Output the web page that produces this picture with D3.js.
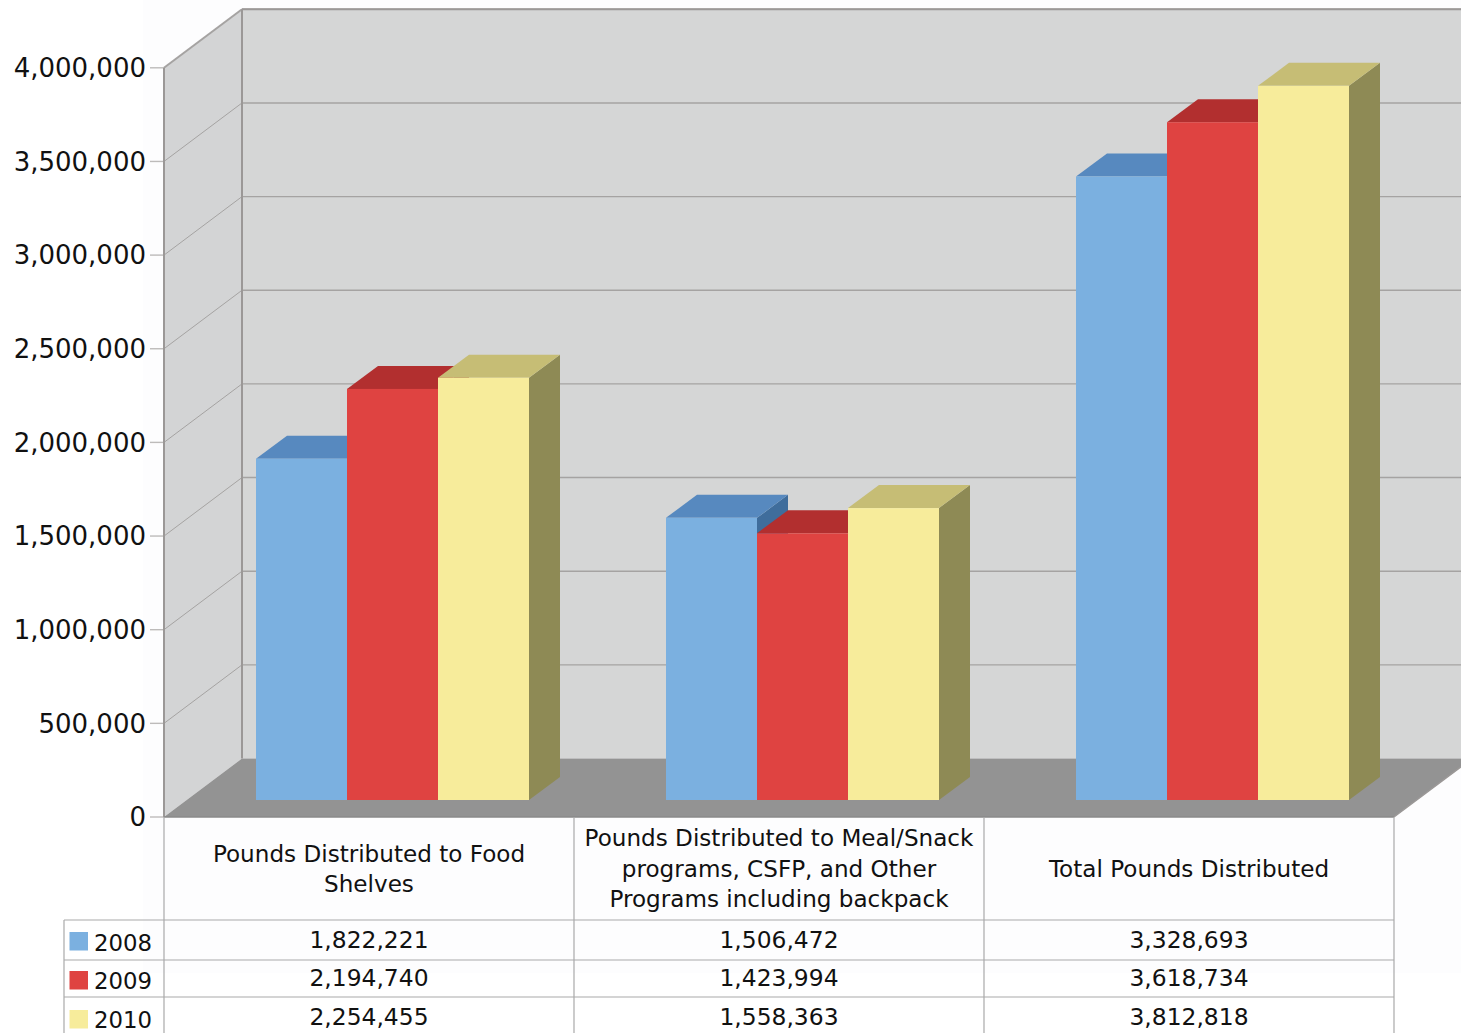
<!DOCTYPE html>
<html>
<head>
<meta charset="utf-8">
<script src="https://cdn.jsdelivr.net/npm/d3@7"></script>
<style>
html, body { margin: 0; padding: 0; background: #fff; overflow: hidden; }
text { font-family: "DejaVu Sans", Verdana, sans-serif; fill: #111; }
</style>
</head>
<body>
<div id="my_dataviz"></div>
<script>
const categories = [
	["Pounds Distributed to Food", "Shelves"],
	["Pounds Distributed to Meal/Snack", "programs, CSFP, and Other", "Programs including backpack"],
	["Total Pounds Distributed"]
];
const years = ["2008", "2009", "2010"];
const VALUES_2008 = [1822221, 1506472, 3328693];
const VALUES_2009 = [2194740, 1423994, 3618734];
const VALUES_2010 = [2254455, 1558363, 3812818];
const yTicks = [0, 500000, 1000000, 1500000, 2000000, 2500000, 3000000, 3500000, 4000000];
const allValues = [VALUES_2008, VALUES_2009, VALUES_2010];

// front, top, side of each year's bars
const frontColors = ["#7bb0e0", "#df4341", "#f7ec9b"];
const topColors = ["#5789bf", "#b22f2f", "#c6bd75"];
const sideColors = ["#3f6d9c", "#8e2a2a", "#8e8a55"];

const width = 1461, height = 1033;
const left = 164, right = 1394, base = 817, top4m = 67.8;
const depthX = 78, depthY = 58.5;   // wall depth
const barDepthX = 31, barDepthY = 23;   // bar depth
const barLift = 17;   // bars stand a bit inside the floor

const svg = d3.select("#my_dataviz").append("svg")
	.attr("width", width).attr("height", height)
	.style("display", "block");

const y = d3.scaleLinear().domain([0, 4000000]).range([base, top4m]);
const x = d3.scaleBand().domain(d3.range(categories.length)).range([left, right]);
const xInner = d3.scaleBand().domain(years).range([92, 365]);

const poly = pts => "M" + pts.map(p => p.join(",")).join("L") + "Z";
const fmt = d3.format(",");

// faint off-white plate behind the chart
svg.append("rect").attr("x", 143).attr("y", 0).attr("width", width - 143).attr("height", 973).attr("fill", "#fdfdfe");

// walls and floor
svg.append("path")
	.attr("d", poly([[left, y(4000000)], [left + depthX, y(4000000) - depthY], [left + depthX, base - depthY], [left, base]]))
	.attr("fill", "#d3d4d5");
svg.append("rect")
	.attr("x", left + depthX).attr("y", y(4000000) - depthY)
	.attr("width", width - left - depthX).attr("height", base - y(4000000))
	.attr("fill", "#d5d6d6");
svg.append("path")
	.attr("d", poly([[left, base], [right, base], [right + depthX, base - depthY], [left + depthX, base - depthY]]))
	.attr("fill", "#939393");

// grid
const grid = svg.append("g").attr("fill", "none").attr("stroke", "#a5a3a2").attr("stroke-width", 1.4);
yTicks.forEach(function (t) {
	if (t > 0) {
		grid.append("line").attr("x1", left + depthX).attr("x2", width)
			.attr("y1", y(t) - depthY).attr("y2", y(t) - depthY);
		grid.append("line").attr("x1", left).attr("x2", left + depthX)
			.attr("y1", y(t)).attr("y2", y(t) - depthY)
			.attr("stroke-width", t === 4000000 ? 2 : 1);
	}
	grid.append("line").attr("x1", 150).attr("x2", left).attr("y1", y(t)).attr("y2", y(t))
		.attr("stroke", "#bdbbba");
});
grid.append("line").attr("x1", left).attr("x2", left).attr("y1", y(4000000)).attr("y2", base).attr("stroke", "#9b9897").attr("stroke-width", 2);
grid.append("line").attr("x1", left + depthX).attr("x2", left + depthX).attr("y1", y(4000000) - depthY).attr("y2", base - depthY).attr("stroke", "#9b9897").attr("stroke-width", 2);
grid.append("line").attr("x1", left + depthX).attr("x2", width).attr("y1", y(4000000) - depthY).attr("y2", y(4000000) - depthY).attr("stroke", "#9b9897").attr("stroke-width", 2);
grid.append("line").attr("x1", left).attr("x2", right).attr("y1", base).attr("y2", base).attr("stroke", "#8a8a8a").attr("stroke-width", 1.5);
grid.append("line").attr("x1", right).attr("x2", right + depthX).attr("y1", base).attr("y2", base - depthY).attr("stroke", "#9b9897");

// y labels
svg.selectAll(".ylabel").data(yTicks).enter().append("text")
	.attr("class", "ylabel")
	.attr("x", 146).attr("y", d => y(d)).attr("dy", "0.36em")
	.attr("text-anchor", "end").attr("font-size", 26)
	.text(fmt);

// bars
categories.forEach(function (c, ci) {
	years.forEach(function (yr, si) {
		const x0 = x(ci) + xInner(yr), x1 = x0 + xInner.bandwidth();
		const yb = base - barLift, yt = y(allValues[si][ci]) - barLift;
		svg.append("path").attr("fill", sideColors[si])
			.attr("d", poly([[x1, yt], [x1 + barDepthX, yt - barDepthY], [x1 + barDepthX, yb - barDepthY], [x1, yb]]));
		svg.append("path").attr("fill", topColors[si])
			.attr("d", poly([[x0, yt], [x0 + barDepthX, yt - barDepthY], [x1 + barDepthX, yt - barDepthY], [x1, yt]]));
		svg.append("rect").attr("fill", frontColors[si])
			.attr("x", x0).attr("y", yt).attr("width", x1 - x0).attr("height", yb - yt);
	});
});

// table
const table = svg.append("g").attr("stroke", "#a9a9a9").attr("stroke-width", 1.2);
const rowLines = [920, 960, 997];
rowLines.forEach(function (ry) {
	table.append("line").attr("x1", 64).attr("x2", right).attr("y1", ry).attr("y2", ry);
});
table.append("line").attr("x1", 64).attr("x2", 64).attr("y1", 920).attr("y2", height);
d3.range(categories.length + 1).forEach(function (i) {
	const vx = i < categories.length ? x(i) : right;
	table.append("line").attr("x1", vx).attr("x2", vx).attr("y1", base).attr("y2", height);
});

// category labels
const labelBaselines = [[862, 892], [846, 877, 907], [877]];
categories.forEach(function (lines, ci) {
	lines.forEach(function (line, li) {
		svg.append("text")
			.attr("x", x(ci) + x.bandwidth() / 2).attr("y", labelBaselines[ci][li])
			.attr("text-anchor", "middle").attr("font-size", 23.1)
			.text(line);
	});
});

// value rows and legend
const rowBaselines = [948, 986, 1025];
const swatchY = [932, 971, 1010];
years.forEach(function (yr, si) {
	svg.append("rect").attr("x", 69.5).attr("y", swatchY[si]).attr("width", 18.5).attr("height", 18.5).attr("fill", frontColors[si]);
	svg.append("text").attr("x", 94).attr("y", rowBaselines[si] + 3).attr("font-size", 22.8).text(yr);
	allValues[si].forEach(function (v, ci) {
		svg.append("text")
			.attr("x", x(ci) + x.bandwidth() / 2).attr("y", rowBaselines[si])
			.attr("text-anchor", "middle").attr("font-size", 23.4)
			.text(fmt(v));
	});
});
</script>
</body>
</html>
